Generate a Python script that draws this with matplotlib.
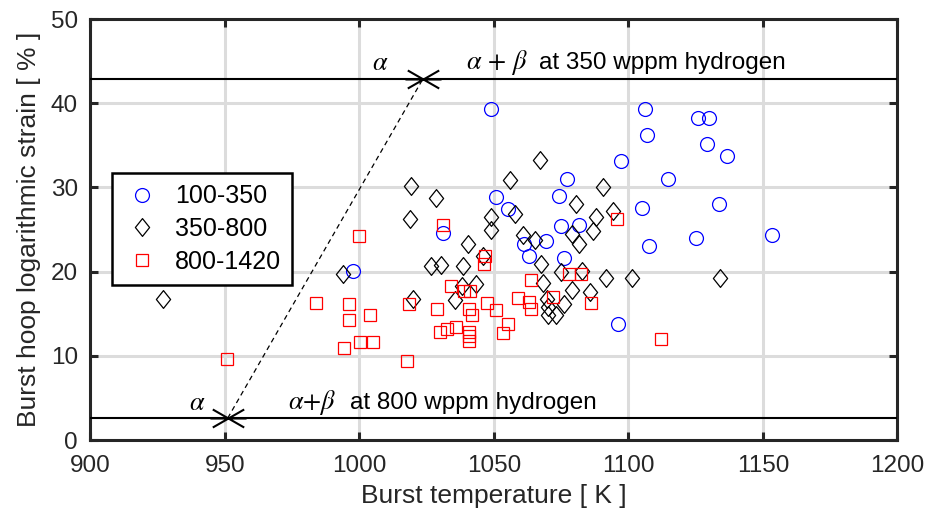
import numpy as np
import matplotlib
matplotlib.use('Agg')
import matplotlib.pyplot as plt
from matplotlib.path import Path

plt.rcParams['font.family'] = ['Liberation Sans', 'DejaVu Sans']
plt.rcParams['mathtext.fontset'] = 'stix'

# === Data ===
# 100-350 wppm (blue circles)
t_low = [997.7, 1031.2, 1048.9, 1050.7, 1055.3, 1061.3, 1063.1, 1069.3, 1074.2,
         1074.9, 1076.0, 1077.0, 1081.6, 1096.2, 1097.1, 1104.9, 1106.1, 1106.8,
         1107.7, 1114.6, 1125.2, 1125.7, 1129.2, 1129.8, 1133.8, 1136.7, 1153.2]
e_low = [20.1, 24.6, 39.3, 28.9, 27.4, 23.3, 21.9, 23.6, 29.0,
         25.4, 21.6, 31.0, 25.5, 13.8, 33.1, 27.6, 39.3, 36.2,
         23.0, 31.0, 24.0, 38.2, 35.1, 38.2, 28.0, 33.7, 24.3]

# 350-800 wppm (black diamonds)
t_mid = [927.0, 994.0, 1018.8, 1019.0, 1020.0, 1026.6, 1028.4, 1030.2, 1035.5,
         1038.2, 1038.3, 1040.3, 1043.3, 1046.0, 1048.9, 1048.9, 1055.8, 1057.8,
         1060.7, 1065.2, 1067.2, 1067.6, 1068.3, 1069.6, 1070.0, 1070.2, 1073.0,
         1074.9, 1076.0, 1078.9, 1079.1, 1080.6, 1081.7, 1082.6, 1085.7, 1086.9,
         1087.9, 1090.5, 1091.5, 1094.4, 1101.2, 1134.0]
e_mid = [16.8, 19.7, 26.3, 30.2, 16.8, 20.7, 28.8, 20.8, 16.6,
         18.3, 20.7, 23.3, 18.5, 21.8, 24.9, 26.5, 30.9, 26.9,
         24.4, 23.7, 33.3, 20.9, 18.6, 16.7, 15.8, 14.8, 14.8,
         20.0, 16.2, 17.8, 24.5, 28.0, 23.3, 20.1, 17.6, 24.8,
         26.5, 30.1, 19.2, 27.2, 19.2, 19.2]

# 800-1420 wppm (red squares)
t_high = [950.6, 983.7, 994.2, 996.2, 996.2, 1000.0, 1000.2, 1003.9, 1004.9,
          1017.5, 1018.5, 1028.9, 1029.9, 1031.2, 1032.4, 1034.0, 1035.9, 1038.8,
          1041.0, 1040.6, 1041.8, 1040.8, 1040.8, 1040.8, 1046.6, 1046.4, 1047.5,
          1050.7, 1053.4, 1055.1, 1059.0, 1063.1, 1063.6, 1063.8, 1071.8, 1077.7,
          1082.4, 1086.0, 1095.6, 1112.1]
e_high = [9.6, 16.3, 10.9, 16.2, 14.3, 24.2, 11.7, 14.9, 11.7,
          9.4, 16.2, 15.6, 12.8, 25.5, 13.2, 18.3, 13.4, 17.7,
          17.7, 15.6, 14.9, 12.8, 12.3, 11.8, 21.8, 20.9, 16.3,
          15.5, 12.7, 13.8, 16.9, 16.4, 15.6, 19.0, 17.0, 19.7,
          19.7, 16.3, 26.3, 12.0]

# phase boundary points (alpha / alpha+beta)
bound_t = [951.0, 1023.6]
bound_e = [2.6, 42.9]

# === Setup plot ===
fig = plt.figure(figsize=(9.31, 5.22), dpi=100)
ax = fig.add_axes([0.0972, 0.157, 0.8668, 0.8066])

diamond = Path([(0, 1), (0.8, 0), (0, -1), (-0.8, 0), (0, 1)],
               [Path.MOVETO, Path.LINETO, Path.LINETO, Path.LINETO, Path.CLOSEPOLY])
star = Path([(-1, 0), (1, 0),
             (-0.87, -0.5), (0.87, 0.5),
             (-0.87, 0.5), (0.87, -0.5)],
            [Path.MOVETO, Path.LINETO, Path.MOVETO, Path.LINETO, Path.MOVETO, Path.LINETO])

ax.plot(t_low, e_low, linestyle='none', marker='o', ms=10, mfc='none',
        mec='#0000ff', mew=0.9, label='100-350')
ax.plot(t_mid, e_mid, linestyle='none', marker=diamond, ms=12.8, mfc='none',
        mec='black', mew=0.9, label='350-800')
ax.plot(t_high, e_high, linestyle='none', marker='s', ms=8.6, mfc='none',
        mec='#ff0000', mew=0.9, label='800-1420')

# boundary lines
for e in bound_e:
    ax.axhline(e, color='black', lw=1.5, zorder=3)
ax.plot(bound_t, bound_e, 'k--', lw=0.9, dashes=(4, 3), zorder=3)
ax.plot(bound_t, bound_e, linestyle='none', marker=star, ms=26, mec='black',
        mew=1.5, zorder=4)

ax.text(1004.6, 44.8, r'$\alpha$', fontsize=19, ha='left', va='center')
ax.text(1039.6, 44.8, r'$\alpha\,+\,\beta$', fontsize=19, ha='left', va='center')
ax.text(1066.7, 44.8, 'at 350 wppm hydrogen', fontsize=17.5, ha='left', va='center')
ax.text(936.5, 4.4, r'$\alpha$', fontsize=19, ha='left', va='center')
ax.text(973.4, 4.4, r'$\alpha{+}\beta$', fontsize=19, ha='left', va='center')
ax.text(996.3, 4.4, 'at 800 wppm hydrogen', fontsize=17.5, ha='left', va='center')

ax.set_xlim(900, 1200)
ax.set_ylim(0, 50)
ax.set_xticks(np.arange(900, 1201, 50))
ax.set_yticks(np.arange(0, 51, 10))
ax.grid(True, color='#dcdcdc', lw=2.2)
ax.set_axisbelow(True)
ax.tick_params(direction='in', length=6, width=2.2, labelsize=17.5,
               top=True, right=True, colors='#262626')
ax.tick_params(axis='x', pad=11)
ax.tick_params(axis='y', pad=9)
for sp in ax.spines.values():
    sp.set_linewidth(2.2)
    sp.set_color('#262626')

ax.set_xlabel('Burst temperature [ K ]', fontsize=19, color='#262626', labelpad=5)
ax.set_ylabel('Burst hoop logarithmic strain [ % ]', fontsize=19, color='#262626',
              labelpad=7)

leg = ax.legend(loc='upper left', bbox_to_anchor=(0.027, 0.634), borderaxespad=0,
                fontsize=18, fancybox=False, framealpha=1, edgecolor='black',
                handletextpad=0.55, borderpad=0.45, labelspacing=0.35, handlelength=1.5)
leg.get_frame().set_linewidth(1.8)

fig.savefig('out.png', dpi=100)
